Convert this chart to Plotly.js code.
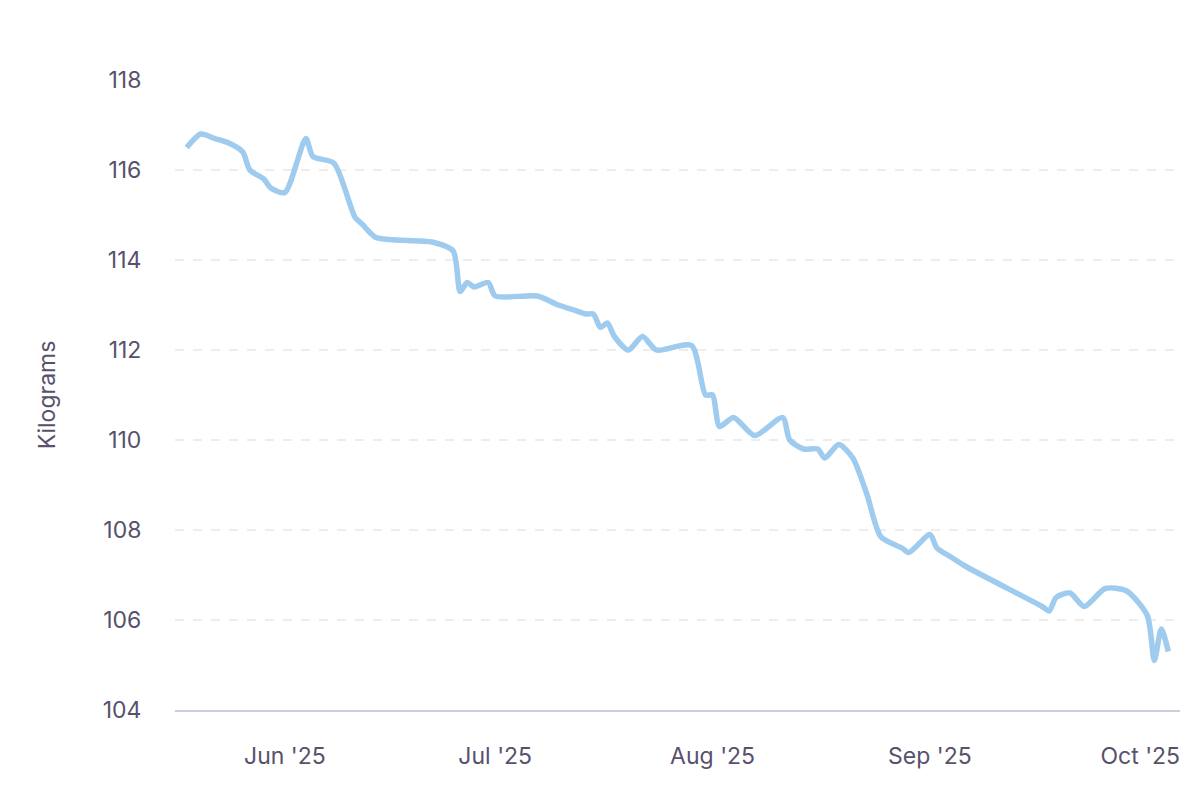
<!DOCTYPE html>
<html>
<head>
<meta charset="utf-8">
<script src="https://cdn.plot.ly/plotly-3.0.1.min.js"></script>
<style>
  html, body { margin: 0; padding: 0; background: #ffffff; }
  #chart { width: 1200px; height: 800px; }
</style>
</head>
<body>
<div id="chart"></div>
<script>
'use strict';

// Weigh-ins
var dates = [
    '2025-05-18', '2025-05-20', '2025-05-22', '2025-05-24', '2025-05-26', '2025-05-27',
    '2025-05-29', '2025-05-30', '2025-06-01', '2025-06-04', '2025-06-05', '2025-06-08',
    '2025-06-11', '2025-06-12', '2025-06-14', '2025-06-22', '2025-06-25', '2025-06-26',
    '2025-06-27', '2025-06-28', '2025-06-30', '2025-07-01', '2025-07-07', '2025-07-10',
    '2025-07-12', '2025-07-14', '2025-07-15', '2025-07-16', '2025-07-17', '2025-07-18',
    '2025-07-20', '2025-07-22', '2025-07-24', '2025-07-29', '2025-07-31', '2025-08-01',
    '2025-08-02', '2025-08-04', '2025-08-07', '2025-08-11', '2025-08-12', '2025-08-14',
    '2025-08-16', '2025-08-17', '2025-08-19', '2025-08-21', '2025-08-23', '2025-08-25',
    '2025-08-28', '2025-08-29', '2025-09-01', '2025-09-02', '2025-09-04', '2025-09-06',
    '2025-09-17', '2025-09-18', '2025-09-19', '2025-09-21', '2025-09-23', '2025-09-26',
    '2025-09-29', '2025-10-02', '2025-10-03', '2025-10-04', '2025-10-05'
];
var kilos = [
    116.5, 116.8, 116.7, 116.6, 116.4, 116.0,
    115.8, 115.6, 115.5, 116.7, 116.3, 116.15,
    114.95, 114.8, 114.5, 114.4, 114.2, 113.3,
    113.5, 113.4, 113.5, 113.2, 113.2, 113.0,
    112.9, 112.8, 112.8, 112.5, 112.6, 112.3,
    112.0, 112.3, 112.0, 112.1, 111.0, 111.0,
    110.3, 110.5, 110.1, 110.5, 110.0, 109.8,
    109.8, 109.6, 109.9, 109.6, 108.8, 107.85,
    107.6, 107.5, 107.9, 107.6, 107.4, 107.2,
    106.3, 106.2, 106.5, 106.6, 106.3, 106.7,
    106.65, 106.1, 105.1, 105.8, 105.3
];

var yTicks = [104, 106, 108, 110, 112, 114, 116, 118];
var monthTicks = ['2025-06-01', '2025-07-01', '2025-08-01', '2025-09-01', '2025-10-01'];
var monthLabels = ["Jun '25", "Jul '25", "Aug '25", "Sep '25", "Oct '25"];

var textColor = '#58516c';
var font = 'Inter, "Open Sans", sans-serif';

var trace = {
    type: 'scatter',
    mode: 'lines',
    x: dates,
    y: kilos,
    line: {
        shape: 'spline',
        smoothing: 0.7,
        color: '#9ecbee',
        width: 5.5
    },
    hoverinfo: 'none',
    showlegend: false
};

Plotly.newPlot('chart', [trace], {
    width: 1200,
    height: 800,
    paper_bgcolor: '#ffffff',
    plot_bgcolor: '#ffffff',
    margin: { t: 80, b: 90, l: 175, r: 20 },
    font: { family: font, size: 23, color: textColor },
    xaxis: {
        type: 'date',
        range: ['2025-05-16 08:00', '2025-10-06 16:00'],
        tickvals: monthTicks,
        ticktext: monthLabels,
        ticks: 'outside',
        ticklen: 24,
        tickcolor: 'rgba(0,0,0,0)',
        showgrid: false,
        zeroline: false,
        showline: true,
        linecolor: '#cfcddc',
        linewidth: 2
    },
    yaxis: {
        range: [104, 118],
        tickvals: yTicks,
        ticks: 'outside',
        ticklen: 28,
        tickcolor: 'rgba(0,0,0,0)',
        showgrid: true,
        gridcolor: '#ededed',
        griddash: 'dash',
        gridwidth: 1.5,
        zeroline: false,
        showline: false,
        title: { text: 'Kilograms', font: { size: 23, color: textColor }, standoff: 40 }
    }
}, { displayModeBar: false, staticPlot: true });
</script>
</body>
</html>
